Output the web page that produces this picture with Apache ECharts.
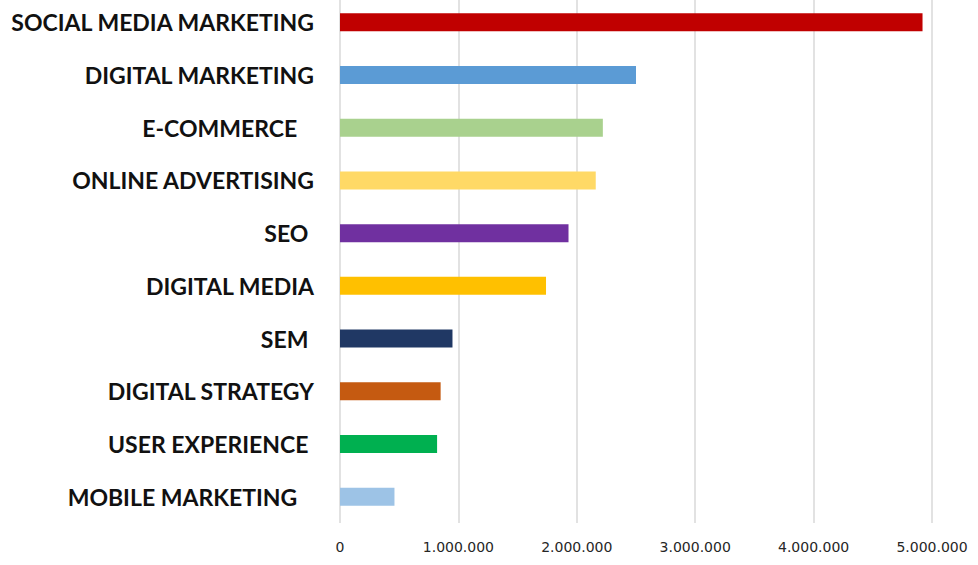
<!DOCTYPE html>
<html>
<head>
<meta charset="utf-8">
<script src="https://cdn.jsdelivr.net/npm/echarts@6/dist/echarts.min.js"></script>
<style>
  html, body { margin: 0; padding: 0; background: #fff; }
  #chart { width: 978px; height: 565px; }
</style>
</head>
<body>
<div id="chart"></div>
<script>
// categories, top to bottom (trailing spaces as in the source sheet)
var categories = [
  'SOCIAL MEDIA MARKETING',
  'DIGITAL MARKETING',
  'E-COMMERCE   ',
  'ONLINE ADVERTISING',
  'SEO ',
  'DIGITAL MEDIA',
  'SEM ',
  'DIGITAL STRATEGY',
  'USER EXPERIENCE ',
  'MOBILE MARKETING   '
];
var values = [4920000, 2500000, 2220000, 2160000, 1930000, 1740000, 950000, 850000, 820000, 460000];
var colors = ['#c00000', '#5b9bd5', '#a9d18e', '#ffd966', '#7030a0', '#ffc000', '#203864', '#c55a11', '#00b050', '#9dc3e6'];

function fmt(v) {
  // thousands separated by dots
  return String(v).replace(/\B(?=(\d{3})+(?!\d))/g, '.');
}

var chart = echarts.init(document.getElementById('chart'), null, { renderer: 'svg' });
chart.setOption({
  animation: false,
  grid: { left: 340, right: 46, top: -4, height: 527, outerBoundsMode: 'none', containLabel: false },
  xAxis: {
    type: 'value',
    min: 0,
    max: 5000000,
    interval: 1000000,
    axisLine: { show: false },
    axisTick: { show: false },
    axisLabel: {
      color: '#262626', fontFamily: 'DejaVu Sans', fontSize: 14, margin: 17,
      formatter: fmt
    },
    splitLine: { lineStyle: { color: '#d9d9d9', width: 1.5 } }
  },
  yAxis: {
    type: 'category',
    data: categories,
    inverse: true,
    axisLine: { show: false },
    axisTick: { show: false },
    axisLabel: {
      color: '#111', fontFamily: 'Lato', fontWeight: 'bold', fontSize: 23, margin: 26
    }
  },
  series: [{
    type: 'bar',
    barWidth: 18,
    data: values.map(function(v, i) {
      return { value: v, itemStyle: { color: colors[i] } };
    })
  }]
});
</script>
</body>
</html>
